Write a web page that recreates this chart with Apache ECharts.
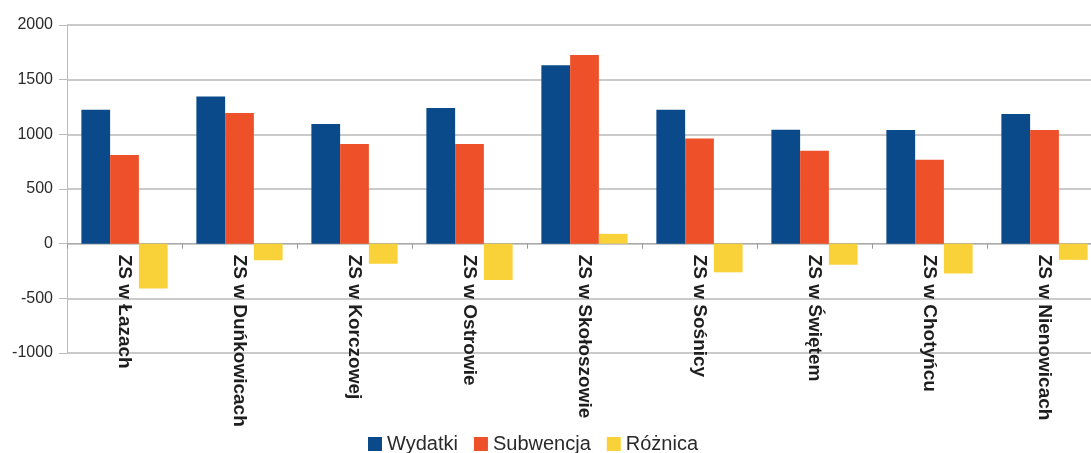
<!DOCTYPE html>
<html>
<head>
<meta charset="utf-8">
<script src="https://cdn.jsdelivr.net/npm/echarts@6/dist/echarts.min.js"></script>
<style>
html,body{margin:0;padding:0;background:#fff;}
#chart{width:1091px;height:453px;}
</style>
</head>
<body>
<div id="chart"></div>
<script>
const categories = ["ZS w Łazach","ZS w Duńkowicach","ZS w Korczowej","ZS w Ostrowie","ZS w Skołoszowie","ZS w Sośnicy","ZS w Świętem","ZS w Chotyńcu","ZS w Nienowicach"];
const wydatki = [1225, 1346, 1094, 1240, 1633, 1225, 1042, 1039, 1185];
const subwencja = [811, 1195, 911, 911, 1725, 963, 850, 768, 1039];
const roznica = [-410, -152, -184, -332, 90, -262, -193, -273, -148];
const yTicks = [-1000, -500, 0, 500, 1000, 1500, 2000];
const seriesNames = ["Wydatki","Subwencja","Różnica"];
const colors = ["#0a4a8a","#ee5129","#f9d23a"];

const chart = echarts.init(document.getElementById('chart'), null, {renderer:'canvas'});
const font = "'Liberation Sans', Arial, sans-serif";
const gridTop = 25, gridHeight = 328;
const yMin = yTicks[0], yMax = yTicks[yTicks.length-1];
// shift the category axis (line, ticks, labels) up to the zero line
const zeroOffset = -gridHeight * (0 - yMin) / (yMax - yMin);
chart.setOption({
  animation:false,
  backgroundColor:'#ffffff',
  color: colors,
  grid:{left:67, top:gridTop, height:gridHeight, width:1035, containLabel:false, outerBoundsMode:'none'},
  legend:{
    data: seriesNames,
    left:368, top:434, padding:0,
    itemWidth:14, itemHeight:14, itemGap:16,
    icon:'rect',
    textStyle:{fontFamily:font, fontSize:20, color:'#2a2a2a'}
  },
  xAxis:{
    type:'category',
    data: categories,
    offset: zeroOffset,
    axisLine:{onZero:false, lineStyle:{color:'#aaaaaa', width:1}},
    axisTick:{show:true, length:5, lineStyle:{color:'#999999'}},
    axisLabel:{rotate:-90, margin:11, fontFamily:font, fontSize:19, fontWeight:'bold', color:'#1e1e1e', interval:0}
  },
  yAxis:{
    type:'value',
    min:yMin, max:yMax, interval:500,
    axisLine:{show:true, lineStyle:{color:'#bbbbbb'}},
    axisTick:{show:true, length:8, lineStyle:{color:'#bbbbbb'}},
    splitLine:{show:true, lineStyle:{color:'#b9b9b9', width:1.5}},
    axisLabel:{margin:14, fontFamily:font, fontSize:16, color:'#2a2a2a', formatter: v => String(v)}
  },
  series:[
    {name:seriesNames[0], type:'bar', data:wydatki, barGap:'0%', barCategoryGap:'25%'},
    {name:seriesNames[1], type:'bar', data:subwencja, barGap:'0%', barCategoryGap:'25%'},
    {name:seriesNames[2], type:'bar', data:roznica, barGap:'0%', barCategoryGap:'25%'}
  ]
});
</script>
</body>
</html>
